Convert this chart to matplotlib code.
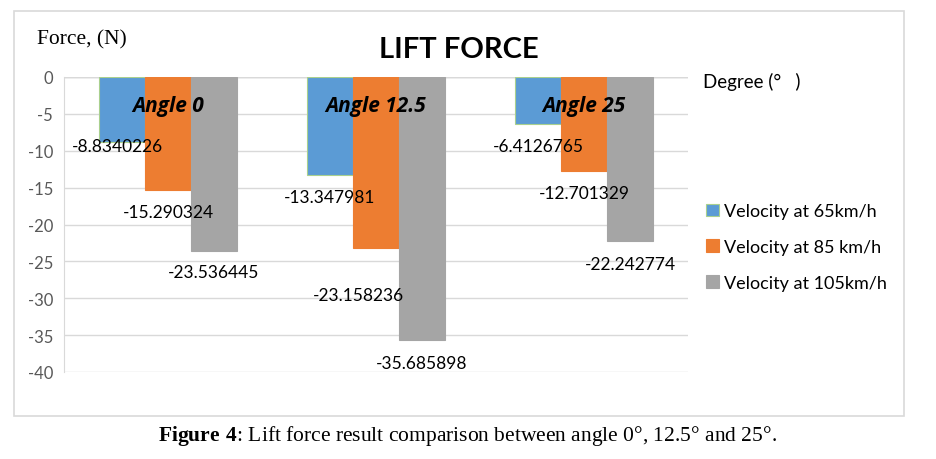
import matplotlib
matplotlib.use("Agg")
import matplotlib.pyplot as plt
from matplotlib.patches import Rectangle
import numpy as np

# data
angles = ["Angle 0", "Angle 12.5", "Angle 25"]
series = ["Velocity at 65km/h", "Velocity at 85 km/h", "Velocity at 105km/h"]
v65 = [-8.8340226, -13.347981, -6.4126765]
v85 = [-15.290324, -23.158236, -12.701329]
v105 = [-23.536445, -35.685898, -22.242774]
yticks = [0, -5, -10, -15, -20, -25, -30, -35, -40]

colors = ["#5B9BD5", "#ED7D31", "#A5A5A5"]
sans = ["Lato", "DejaVu Sans"]
serif = ["Liberation Serif", "DejaVu Serif"]

plt.rcParams["mathtext.fontset"] = "custom"
plt.rcParams["mathtext.rm"] = "Liberation Serif"
plt.rcParams["mathtext.bf"] = "Liberation Serif:bold"

# label offsets (pixels) used in the original, placed by hand
label_dx = [[-5, 0, 0], [0, -18, 0], [0, 0, 0]]
label_dy = [[-4, -22, -21], [-22, -47, -23], [-22, -22, -23]]

fig = plt.figure(figsize=(9.36, 4.6), dpi=100)
fig.patches.append(Rectangle((14 / 936, 43 / 460), 890 / 936, 405 / 460,
                             transform=fig.transFigure, fill=False,
                             edgecolor="#D9D9D9", linewidth=1.2))

ax = fig.add_axes([64 / 936, 87 / 460, 624 / 936, 295 / 460])
x = np.arange(len(angles))
w = 0.221
values = [v65, v85, v105]
bars = []
for i, vals in enumerate(values):
    edge = "#A9D08E" if i == 0 else colors[i]
    b = ax.bar(x + (i - 1) * w, vals, w, color=colors[i], edgecolor=edge,
               linewidth=0.8, label=series[i], zorder=2)
    bars.append(b)
    for j, v in enumerate(vals):
        ax.annotate(f"{v:.8g}", (x[j] + (i - 1) * w, v),
                    xytext=(label_dx[j][i], label_dy[j][i]),
                    textcoords="offset pixels", ha="center", va="center",
                    fontsize=12.5, family=sans, color="black", zorder=3)

for j, a in enumerate(angles):
    ax.text(x[j], -3.8, a, ha="center", va="center", fontsize=15,
            fontweight="bold", fontstyle="italic",
            family=["Open Sans", "DejaVu Sans"], zorder=4)

ax.set_xlim(-0.5, 2.5)
ax.set_ylim(-40, 0)
ax.set_yticks(yticks)
ax.set_yticklabels([str(t) for t in yticks], family=sans, fontsize=12,
                   color="#595959")
ax.set_xticks([])
ax.tick_params(axis="y", length=0, pad=8)
ax.grid(axis="y", color="#D9D9D9", linewidth=1, zorder=0)
for s in ["top", "right", "bottom"]:
    ax.spines[s].set_visible(False)
ax.spines["left"].set_color("#D9D9D9")
ax.axhline(0, color="#BFBFBF", linewidth=1, zorder=1)

fig.text(37 / 936, 1 - 40 / 460, "Force, (N)", family=serif, fontsize=15.5,
         va="center", ha="left")
fig.text(459 / 936, 1 - 50 / 460, "LIFT FORCE", family=sans, fontsize=21,
         fontweight="bold", va="center", ha="center")
fig.text(703 / 936, 1 - 82 / 460, "Degree (°\u2003)", family=sans,
         fontsize=13.5, va="center", ha="left")

fig.legend(handles=bars, labels=series, loc="upper left",
           bbox_to_anchor=(690 / 936, 1 - 188 / 460), frameon=False,
           prop={"family": sans, "size": 13}, handlelength=0.7,
           handleheight=0.7, handletextpad=0.3, labelspacing=1.1)

fig.text(467 / 936, 1 - 436 / 460,
         r"$\mathbf{Figure\ 4}$: Lift force result comparison between angle 0°, 12.5° and 25°.",
         family=serif, fontsize=15.5, ha="center", va="center")

fig.savefig("out.png", dpi=100)
